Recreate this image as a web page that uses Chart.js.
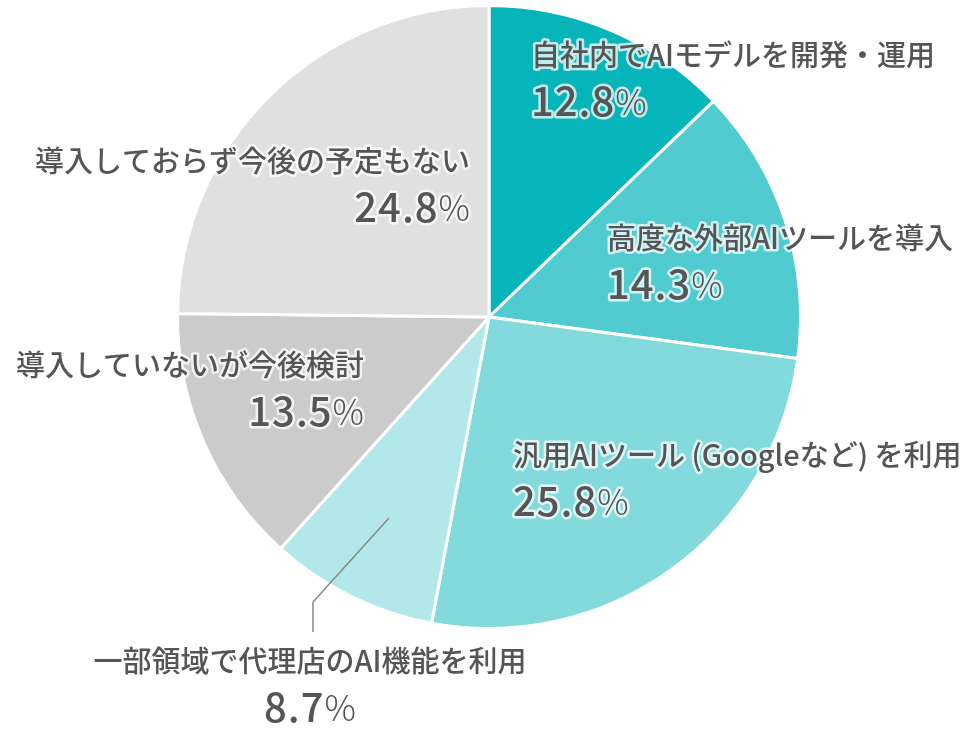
<!DOCTYPE html>
<html>
<head>
<meta charset="utf-8">
<script src="https://cdn.jsdelivr.net/npm/chart.js@4/dist/chart.umd.min.js"></script>
<style>
  html, body { margin: 0; padding: 0; background: #fff; }
  #wrap { width: 980px; height: 730px; }
</style>
</head>
<body>
<div id="wrap"><canvas id="pie" width="980" height="730"></canvas></div>
<script>
const kategorien = [
  '自社内でAIモデルを開発・運用',
  '高度な外部AIツールを導入',
  '汎用AIツール (Googleなど) を利用',
  '一部領域で代理店のAI機能を利用',
  '導入していないが今後検討',
  '導入しておらず今後の予定もない'
];
const anteile = [12.8, 14.3, 25.8, 8.7, 13.5, 24.8];
const farben = ['#05b5ba', '#50cbd0', '#83dadc', '#b3e8ea', '#cbcbcb', '#e0e0e0'];

// Beschriftung: x, y der ersten Zeile, Ausrichtung
const beschriftung = [
  { x: 531, y: 55, align: 'left' },
  { x: 607, y: 238, align: 'left' },
  { x: 513, y: 455, align: 'left' },
  { x: 310, y: 661, align: 'center', linie: [[389, 518], [313, 602], [313, 632]] },
  { x: 364, y: 365, align: 'right' },
  { x: 470, y: 161, align: 'right' }
];

const schrift = '"Noto Sans CJK JP", "Noto Sans", sans-serif';

const labelPlugin = {
  id: 'labels',
  afterDatasetsDraw(chart) {
    const ctx = chart.ctx;
    ctx.save();
    ctx.textBaseline = 'middle';
    ctx.lineJoin = 'round';
    beschriftung.forEach((b, i) => {
      if (b.linie) {
        ctx.beginPath();
        ctx.strokeStyle = '#888';
        ctx.lineWidth = 1.5;
        b.linie.forEach((p, j) => j ? ctx.lineTo(p[0], p[1]) : ctx.moveTo(p[0], p[1]));
        ctx.stroke();
      }
      // Zeile 1
      ctx.letterSpacing = '0px';
      ctx.font = '500 29px ' + schrift;
      ctx.textAlign = b.align;
      ctx.strokeStyle = 'rgba(255,255,255,0.75)';
      ctx.lineWidth = 5;
      ctx.strokeText(kategorien[i], b.x, b.y);
      ctx.fillStyle = '#555';
      ctx.fillText(kategorien[i], b.x, b.y);

      // Zeile 2: Zahl + %
      const zahl = anteile[i].toFixed(1);
      ctx.letterSpacing = '1px';
      ctx.font = '500 40px ' + schrift;
      const wZahl = ctx.measureText(zahl).width;
      ctx.letterSpacing = '0px';
      ctx.font = '300 35px ' + schrift;
      const wProz = ctx.measureText('%').width;
      const gesamt = wZahl + wProz;
      let x0 = b.x;
      if (b.align === 'right') x0 = b.x - gesamt;
      if (b.align === 'center') x0 = b.x - gesamt / 2;
      const y2 = b.y + 46;
      ctx.textAlign = 'left';
      ctx.letterSpacing = '1px';
      ctx.font = '500 40px ' + schrift;
      ctx.strokeText(zahl, x0, y2);
      ctx.fillText(zahl, x0, y2);
      ctx.letterSpacing = '0px';
      ctx.font = '300 35px ' + schrift;
      ctx.strokeText('%', x0 + wZahl, y2 + 1);
      ctx.fillText('%', x0 + wZahl, y2 + 1);
    });
    ctx.restore();
  }
};

new Chart(document.getElementById('pie').getContext('2d'), {
  type: 'pie',
  data: {
    labels: kategorien,
    datasets: [{
      data: anteile,
      backgroundColor: farben,
      borderColor: '#fff',
      borderWidth: 3
    }]
  },
  options: {
    responsive: false,
    animation: false,
    layout: { padding: { left: 176, right: 178, top: 4, bottom: 100 } },
    plugins: {
      legend: { display: false },
      tooltip: { enabled: false }
    }
  },
  plugins: [labelPlugin]
});
</script>
</body>
</html>
